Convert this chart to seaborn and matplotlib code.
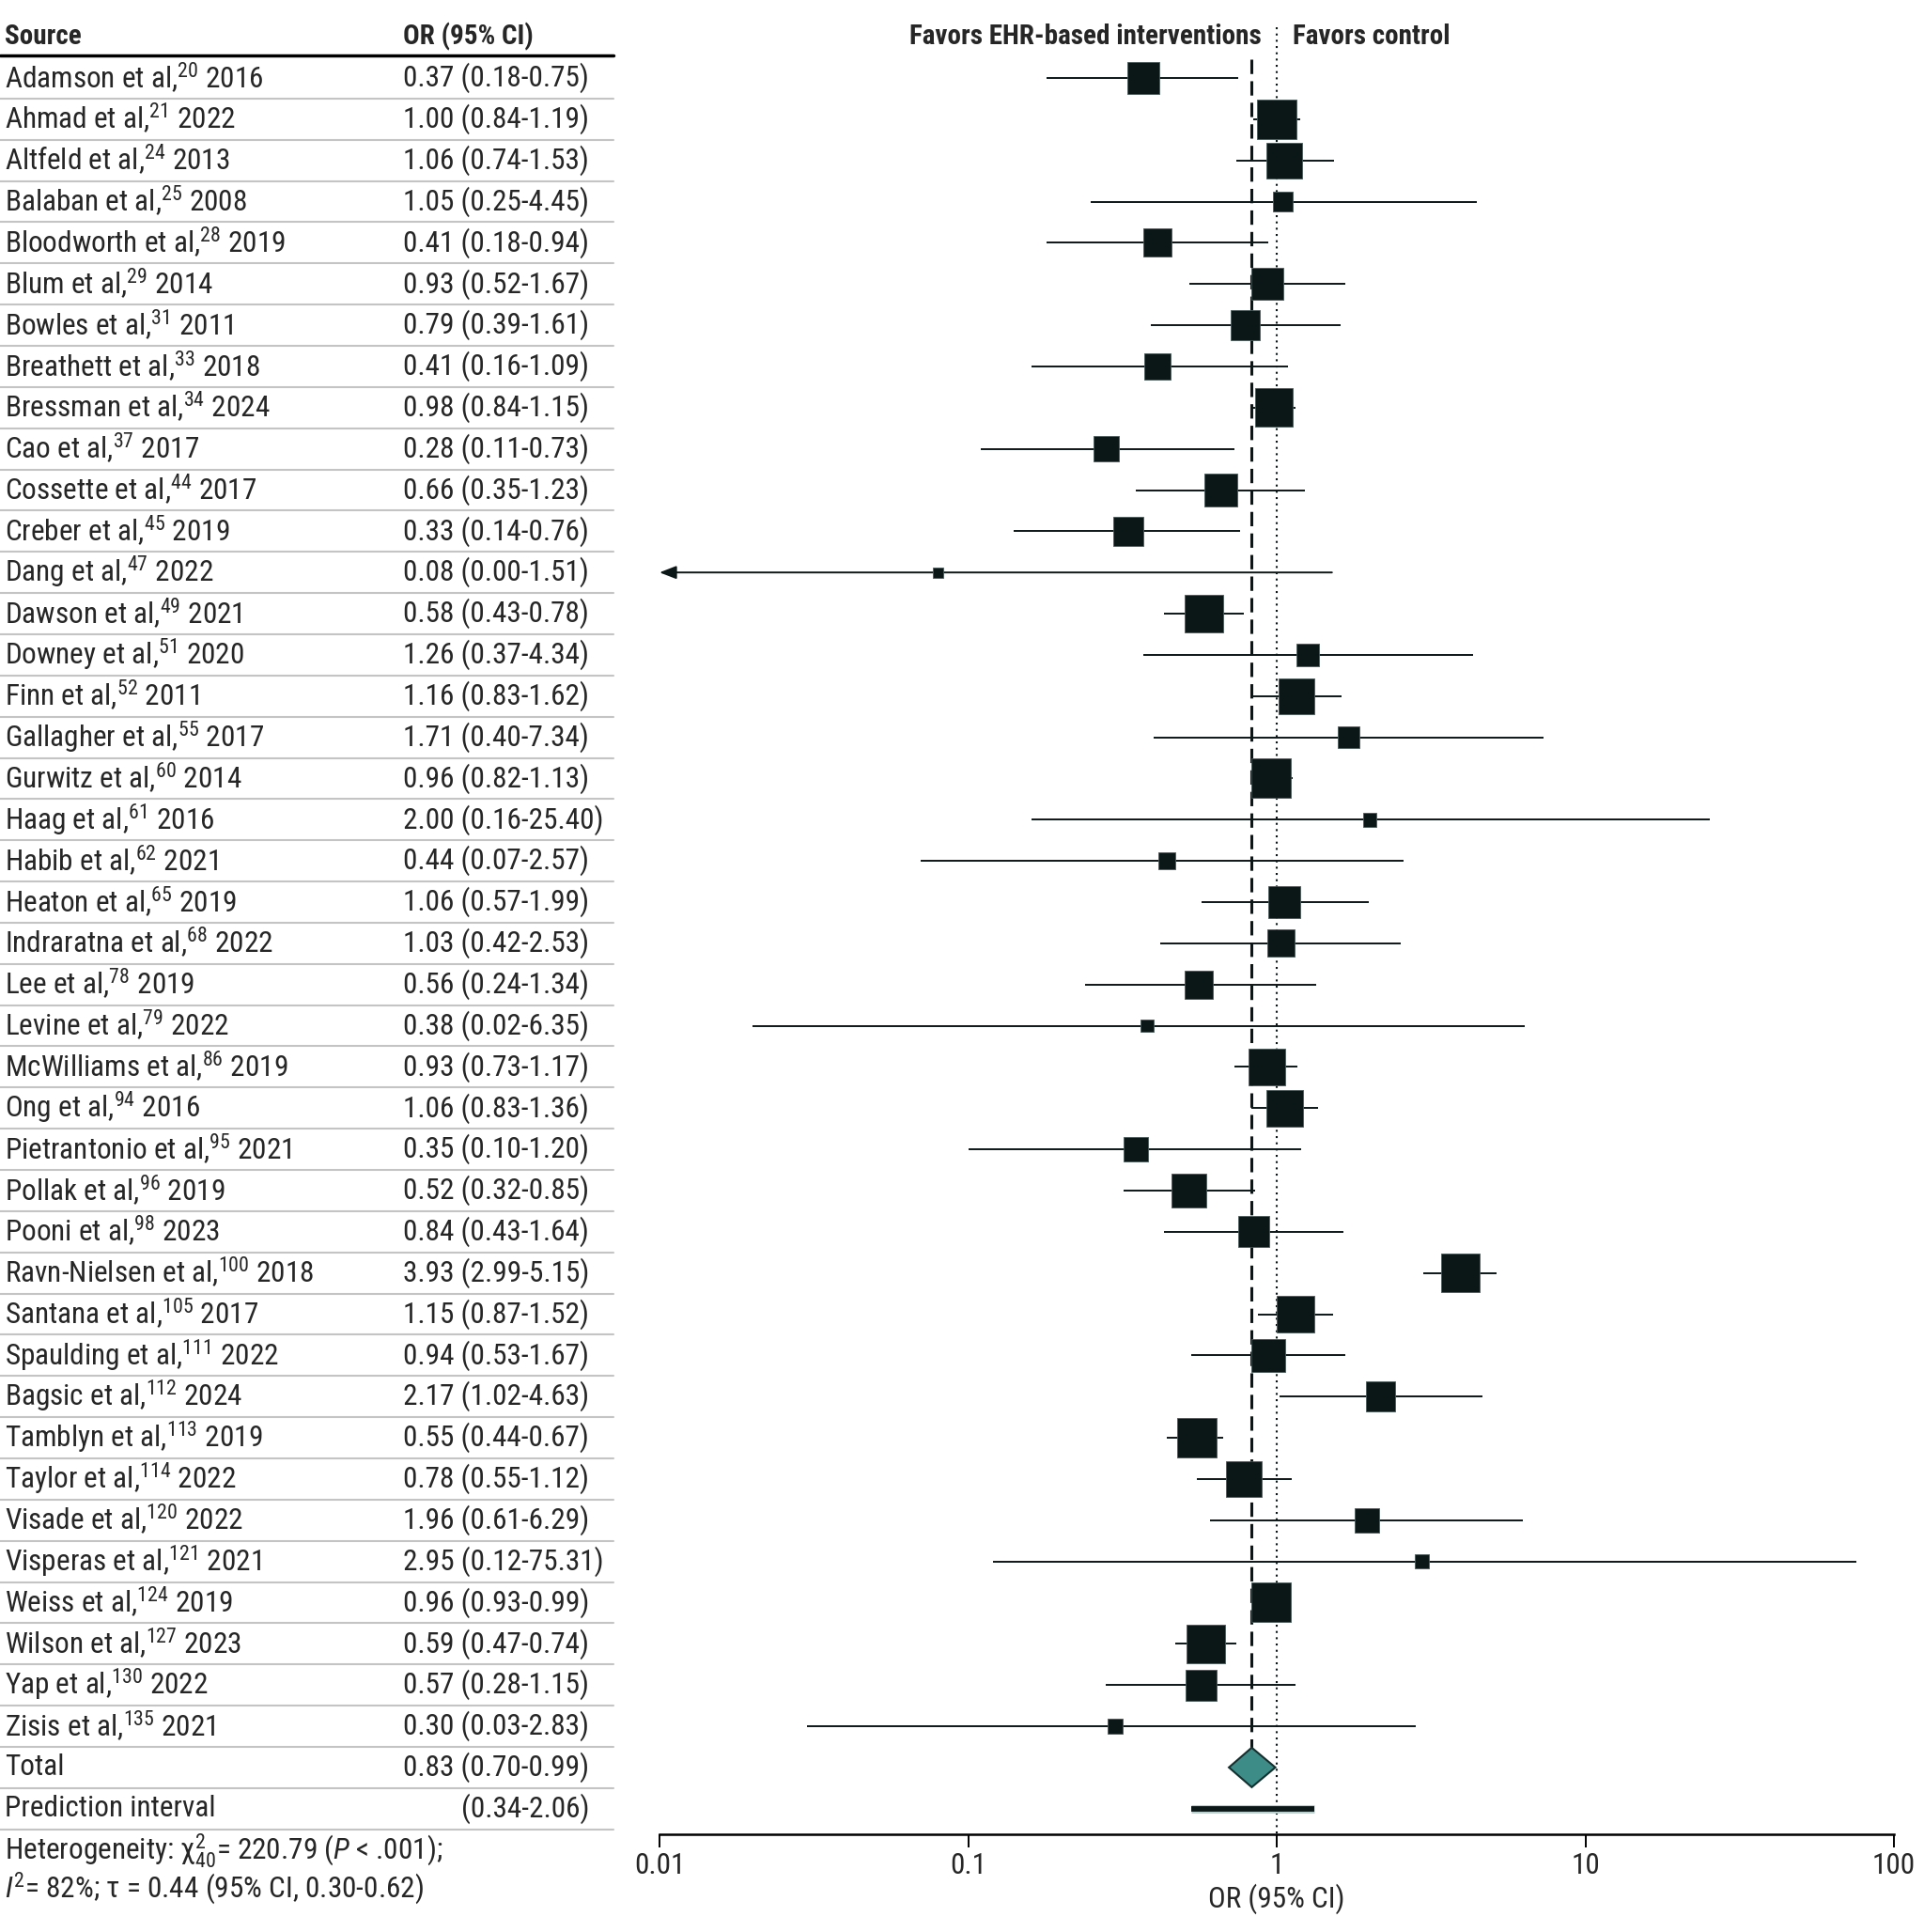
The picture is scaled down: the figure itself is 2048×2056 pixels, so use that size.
import matplotlib
matplotlib.use("Agg")
import matplotlib.pyplot as plt
from matplotlib import font_manager
import seaborn as sns
import numpy as np
import pandas as pd

# study rows, top to bottom
authors = ["Adamson", "Ahmad", "Altfeld", "Balaban", "Bloodworth", "Blum", "Bowles", "Breathett",
           "Bressman", "Cao", "Cossette", "Creber", "Dang", "Dawson", "Downey", "Finn", "Gallagher",
           "Gurwitz", "Haag", "Habib", "Heaton", "Indraratna", "Lee", "Levine", "McWilliams", "Ong",
           "Pietrantonio", "Pollak", "Pooni", "Ravn-Nielsen", "Santana", "Spaulding", "Bagsic",
           "Tamblyn", "Taylor", "Visade", "Visperas", "Weiss", "Wilson", "Yap", "Zisis"]
refs = [20, 21, 24, 25, 28, 29, 31, 33, 34, 37, 44, 45, 47, 49, 51, 52, 55, 60, 61, 62, 65, 68, 78,
        79, 86, 94, 95, 96, 98, 100, 105, 111, 112, 113, 114, 120, 121, 124, 127, 130, 135]
years = [2016, 2022, 2013, 2008, 2019, 2014, 2011, 2018, 2024, 2017, 2017, 2019, 2022, 2021, 2020,
         2011, 2017, 2014, 2016, 2021, 2019, 2022, 2019, 2022, 2019, 2016, 2021, 2019, 2023, 2018,
         2017, 2022, 2024, 2019, 2022, 2022, 2021, 2019, 2023, 2022, 2021]
odds = [0.37, 1.00, 1.06, 1.05, 0.41, 0.93, 0.79, 0.41, 0.98, 0.28, 0.66, 0.33, 0.08, 0.58, 1.26,
        1.16, 1.71, 0.96, 2.00, 0.44, 1.06, 1.03, 0.56, 0.38, 0.93, 1.06, 0.35, 0.52, 0.84, 3.93,
        1.15, 0.94, 2.17, 0.55, 0.78, 1.96, 2.95, 0.96, 0.59, 0.57, 0.30]
ci_lo = [0.18, 0.84, 0.74, 0.25, 0.18, 0.52, 0.39, 0.16, 0.84, 0.11, 0.35, 0.14, 0.00, 0.43, 0.37,
         0.83, 0.40, 0.82, 0.16, 0.07, 0.57, 0.42, 0.24, 0.02, 0.73, 0.83, 0.10, 0.32, 0.43, 2.99,
         0.87, 0.53, 1.02, 0.44, 0.55, 0.61, 0.12, 0.93, 0.47, 0.28, 0.03]
ci_hi = [0.75, 1.19, 1.53, 4.45, 0.94, 1.67, 1.61, 1.09, 1.15, 0.73, 1.23, 0.76, 1.51, 0.78, 4.34,
         1.62, 7.34, 1.13, 25.40, 2.57, 1.99, 2.53, 1.34, 6.35, 1.17, 1.36, 1.20, 0.85, 1.64, 5.15,
         1.52, 1.67, 4.63, 0.67, 1.12, 6.29, 75.31, 0.99, 0.74, 1.15, 2.83]
# relative study weights (estimated from square areas)
weights = [2.38, 3.60, 2.96, 0.90, 1.86, 2.38, 2.03, 1.55, 3.38, 1.55, 2.56, 2.03, 0.23, 3.38, 1.14,
           2.96, 1.02, 3.60, 0.43, 0.69, 2.38, 1.70, 1.86, 0.35, 3.16, 3.16, 1.41, 2.76, 2.20, 3.38,
           3.16, 2.56, 2.03, 3.60, 2.96, 1.41, 0.43, 3.60, 3.38, 2.20, 0.51]

total_or, total_lo, total_hi = 0.83, 0.70, 0.99
pi_lo, pi_hi = 0.34, 2.06
pi_bar_lo, pi_bar_hi = 0.53, 1.32  # bar as drawn in the figure

xticks = [0.01, 0.1, 1, 10, 100]
xtick_labels = ["0.01", "0.1", "1", "10", "100"]

# pick the narrowest installed family
installed = {f.name for f in font_manager.fontManager.ttflist}
BASE = next((f for f in ["Roboto Condensed", "Liberation Sans Narrow", "Roboto", "Liberation Sans"]
             if f in installed), "DejaVu Sans")

sns.set_theme(style="white")
plt.rcParams["font.family"] = [BASE, "DejaVu Sans"]
plt.rcParams["mathtext.fontset"] = "custom"
plt.rcParams["mathtext.rm"] = BASE
plt.rcParams["mathtext.it"] = BASE + ":italic"
plt.rcParams["mathtext.default"] = "regular"

FS = 22.5
FS_B = 21
DARK = "#0b1716"
W, H = 2048, 2056
ROW0, STEP = 83, 43.85


def row_of(px):
    return (px - ROW0) / STEP


df = pd.DataFrame({"author": authors, "ref": refs, "year": years, "est": odds,
                   "lo": ci_lo, "hi": ci_hi, "w": weights})
df["row"] = np.arange(len(df))
n = len(df)

fig = plt.figure(figsize=(W / 100, H / 100), dpi=100)

# table (full figure)
tax = fig.add_axes([0, 0, 1, 1])
tax.set_xlim(0, W)
tax.set_ylim(row_of(H), row_of(0))
tax.axis("off")

tax.text(5, -1, "Source", fontsize=FS_B, fontweight="bold", va="center", ha="left")
tax.text(429, -1, "OR (95% CI)", fontsize=FS_B, fontweight="bold", va="center", ha="left")
tax.plot([0, 653], [-0.55, -0.55], color="black", lw=2.5)

for _, r in df.iterrows():
    tax.text(5, r.row, f"{r.author} et al,$^{{{r.ref}}}$ {r.year}", fontsize=FS, va="center", ha="left")
    tax.text(429, r.row, f"{r.est:.2f} ({r.lo:.2f}-{r.hi:.2f})", fontsize=FS, va="center", ha="left")

tax.text(5, n, "Total", fontsize=FS, va="center", ha="left")
tot = tax.text(429, n, f"{total_or:.2f} ({total_lo:.2f}-{total_hi:.2f})", fontsize=FS,
               va="center", ha="left")
tax.text(5, n + 1, "Prediction interval", fontsize=FS, va="center", ha="left")
# right edge lines up with the Total estimate text
fig.canvas.draw()
bb = tot.get_window_extent()
pi_x = tax.transData.inverted().transform((bb.x1, 0))[0]
tax.text(pi_x, n + 1, f"({pi_lo:.2f}-{pi_hi:.2f})", fontsize=FS, va="center", ha="right")

for k in range(n + 2):
    tax.plot([0, 653], [k + 0.5, k + 0.5], color="#c4c4c4", lw=1.5)

tax.text(5, row_of(1970), r"Heterogeneity: $\chi^{2}_{40}$= 220.79 ($\mathit{P}$ < .001);",
         fontsize=FS, va="center", ha="left")
tax.text(5, row_of(2009), r"$\mathit{I}^{2}$= 82%; τ = 0.44 (95% CI, 0.30-0.62)",
         fontsize=FS, va="center", ha="left")

# forest panel
left, right, bottom_px = 702, 2016, 1952
fax = fig.add_axes([left / W, (H - bottom_px) / H, (right - left) / W, bottom_px / H])
fax.set_facecolor("none")
fax.set_xscale("log")
fax.set_xlim(0.01, 100)
fax.set_ylim(row_of(bottom_px), row_of(0))

fax.plot([1, 1], [row_of(29), row_of(bottom_px)], color=DARK, lw=1.5, ls=(0, (1, 2.2)))
fax.plot([total_or, total_or], [-0.45, n - 0.48], color=DARK, lw=2.2, ls=(0, (5, 2.5)))

for _, r in df.iterrows():
    if r.lo <= 0:
        fax.annotate("", xy=(0.01, r.row), xytext=(r.hi, r.row),
                     arrowprops=dict(arrowstyle="-|>,head_length=0.9,head_width=0.35",
                                     color=DARK, lw=1.4, shrinkA=0, shrinkB=0))
    else:
        fax.plot([r.lo, r.hi], [r.row, r.row], color=DARK, lw=1.4, solid_capstyle="butt")

# square area proportional to weight; side 42 px at weight 3.6
k_area = (42 * 0.72) ** 2 / 3.6
sns.scatterplot(data=df, x="est", y="row", size="w", marker="s", color=DARK,
                sizes=(k_area * df.w.min(), k_area * df.w.max()), size_norm=(df.w.min(), df.w.max()),
                edgecolor="#4a5a5a", linewidth=0.6, legend=False, ax=fax, zorder=3)

fax.fill([total_lo, total_or, total_hi, total_or], [n, n - 0.48, n, n + 0.48],
         facecolor="#3d8c88", edgecolor="#14302e", lw=1.5, zorder=4)
fax.plot([pi_bar_lo, pi_bar_hi], [n + 1, n + 1], color="#b9d2d0", lw=6.5, solid_capstyle="butt")
fax.plot([pi_bar_lo, pi_bar_hi], [n + 1, n + 1], color=DARK, lw=4.2, solid_capstyle="butt")

fax.text(0.89, -1, "Favors EHR-based interventions", fontsize=FS_B, fontweight="bold",
         va="center", ha="right")
fax.text(1.13, -1, "Favors control", fontsize=FS_B, fontweight="bold", va="center", ha="left")

for s in ["top", "left", "right"]:
    fax.spines[s].set_visible(False)
fax.spines["bottom"].set_color("black")
fax.spines["bottom"].set_linewidth(1.8)
fax.set_xticks(xticks)
fax.set_xticklabels(xtick_labels, fontsize=FS)
fax.xaxis.set_minor_locator(matplotlib.ticker.NullLocator())
fax.tick_params(axis="x", bottom=True, direction="out", length=10, width=1.4, color="black", pad=4)
fax.set_yticks([])
fax.set_xlabel("OR (95% CI)", fontsize=FS, labelpad=3)
fax.set_ylabel("")

fig.savefig("out.png", dpi=100)
